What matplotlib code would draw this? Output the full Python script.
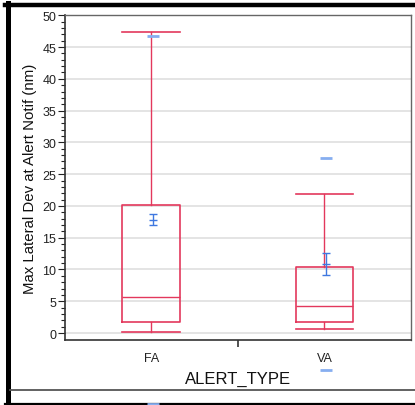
import matplotlib
matplotlib.use('Agg')
import matplotlib.pyplot as plt
from matplotlib.lines import Line2D
import numpy as np

# box plot values
categories = ['FA', 'VA']
whisker_lo = [0.1, 0.6]
q1_vals = [1.8, 1.8]
median_vals = [5.6, 4.3]
q3_vals = [20.1, 10.4]
whisker_hi = [47.4, 21.8]

# mean with 95% CI and std dev
mean_vals = [17.8, 10.9]
ci_lo = [17.0, 9.2]
ci_hi = [18.8, 12.6]
sd_vals = [28.9, 16.7]

plt.rcParams['font.family'] = ['Liberation Sans', 'DejaVu Sans']

box_color = '#e3385c'
mean_color = '#3f78e0'
sd_color = '#86aef0'

fig = plt.figure(figsize=(4.15, 4.06), dpi=100)
ax = fig.add_axes([64.7 / 415, 1 - 340.7 / 406, (411 - 64.7) / 415, (340.7 - 16.3) / 406])

pos = np.arange(len(categories))
stats = []
for i in range(len(categories)):
    stats.append({'whislo': whisker_lo[i], 'q1': q1_vals[i], 'med': median_vals[i],
                  'q3': q3_vals[i], 'whishi': whisker_hi[i], 'fliers': []})

ax.bxp(stats, positions=pos, widths=0.333, capwidths=0.333, showfliers=False,
       boxprops=dict(color=box_color, linewidth=1.2),
       whiskerprops=dict(color=box_color, linewidth=1.0),
       capprops=dict(color=box_color, linewidth=1.2),
       medianprops=dict(color=box_color, linewidth=1.0))

# mean and confidence interval
m = np.array(mean_vals)
ax.errorbar(pos + 0.01, m, yerr=[m - np.array(ci_lo), np.array(ci_hi) - m], fmt='none',
            ecolor=mean_color, elinewidth=1.0, capsize=3, capthick=1.0, zorder=4)
ax.plot(pos + 0.01, m, ls='none', marker='_', ms=6, mew=1.0, color=mean_color, zorder=4)

# std dev marks (drawn outside the axes where they fall below)
sd = np.array(sd_vals)
ax.plot(pos + 0.01, m + sd, ls='none', marker='_', ms=9, mew=2.0, color=sd_color, clip_on=False)
ax.plot(pos + 0.01, m - sd, ls='none', marker='_', ms=9, mew=2.0, color=sd_color, clip_on=False)

ax.set_xlim(-0.5, 1.5)
ax.set_ylim(-1.05, 50)
ax.set_yticks(np.arange(0, 51, 5))
ax.set_yticks(np.arange(0, 51, 1), minor=True)
ax.yaxis.grid(True, which='major', color='#e2e2e2', linewidth=1.3)
ax.set_axisbelow(True)
ax.tick_params(axis='y', which='major', length=5, width=0.8, labelsize=9, pad=1, colors='#222222')
ax.tick_params(axis='y', which='minor', length=3, width=0.8, colors='#222222')

ax.set_xticks(pos)
ax.set_xticklabels(categories)
ax.set_xticks([0.5], minor=True)
ax.tick_params(axis='x', which='major', length=0, labelsize=9, pad=9, colors='#222222')
ax.tick_params(axis='x', which='minor', length=5, width=1.2, colors='#333333')

ax.set_xlabel('ALERT_TYPE', fontsize=12, labelpad=5, color='#111111')
ax.set_ylabel('Max Lateral Dev at Alert Notif (nm)', fontsize=10.8, labelpad=4, color='#111111')

for side in ['left', 'bottom']:
    ax.spines[side].set_color('#333333')
    ax.spines[side].set_linewidth(1.2)
for side in ['top', 'right']:
    ax.spines[side].set_color('#666666')
    ax.spines[side].set_linewidth(1.0)

# outer frame
fig.add_artist(Line2D([7.5 / 415, 7.5 / 415], [0, 1 - 4 / 406], color='black', lw=3.6, zorder=-1))
fig.add_artist(Line2D([5 / 415, 1], [1 - 6 / 406, 1 - 6 / 406], color='black', lw=3.2, zorder=-1))
fig.add_artist(Line2D([5 / 415, 1], [1 / 406, 1 / 406], color='black', lw=1.6, zorder=-1))
fig.add_artist(Line2D([10 / 415, 1], [1 - 390.7 / 406, 1 - 390.7 / 406], color='#555555', lw=1.3, zorder=-1))

fig.savefig('out.png', dpi=100)
